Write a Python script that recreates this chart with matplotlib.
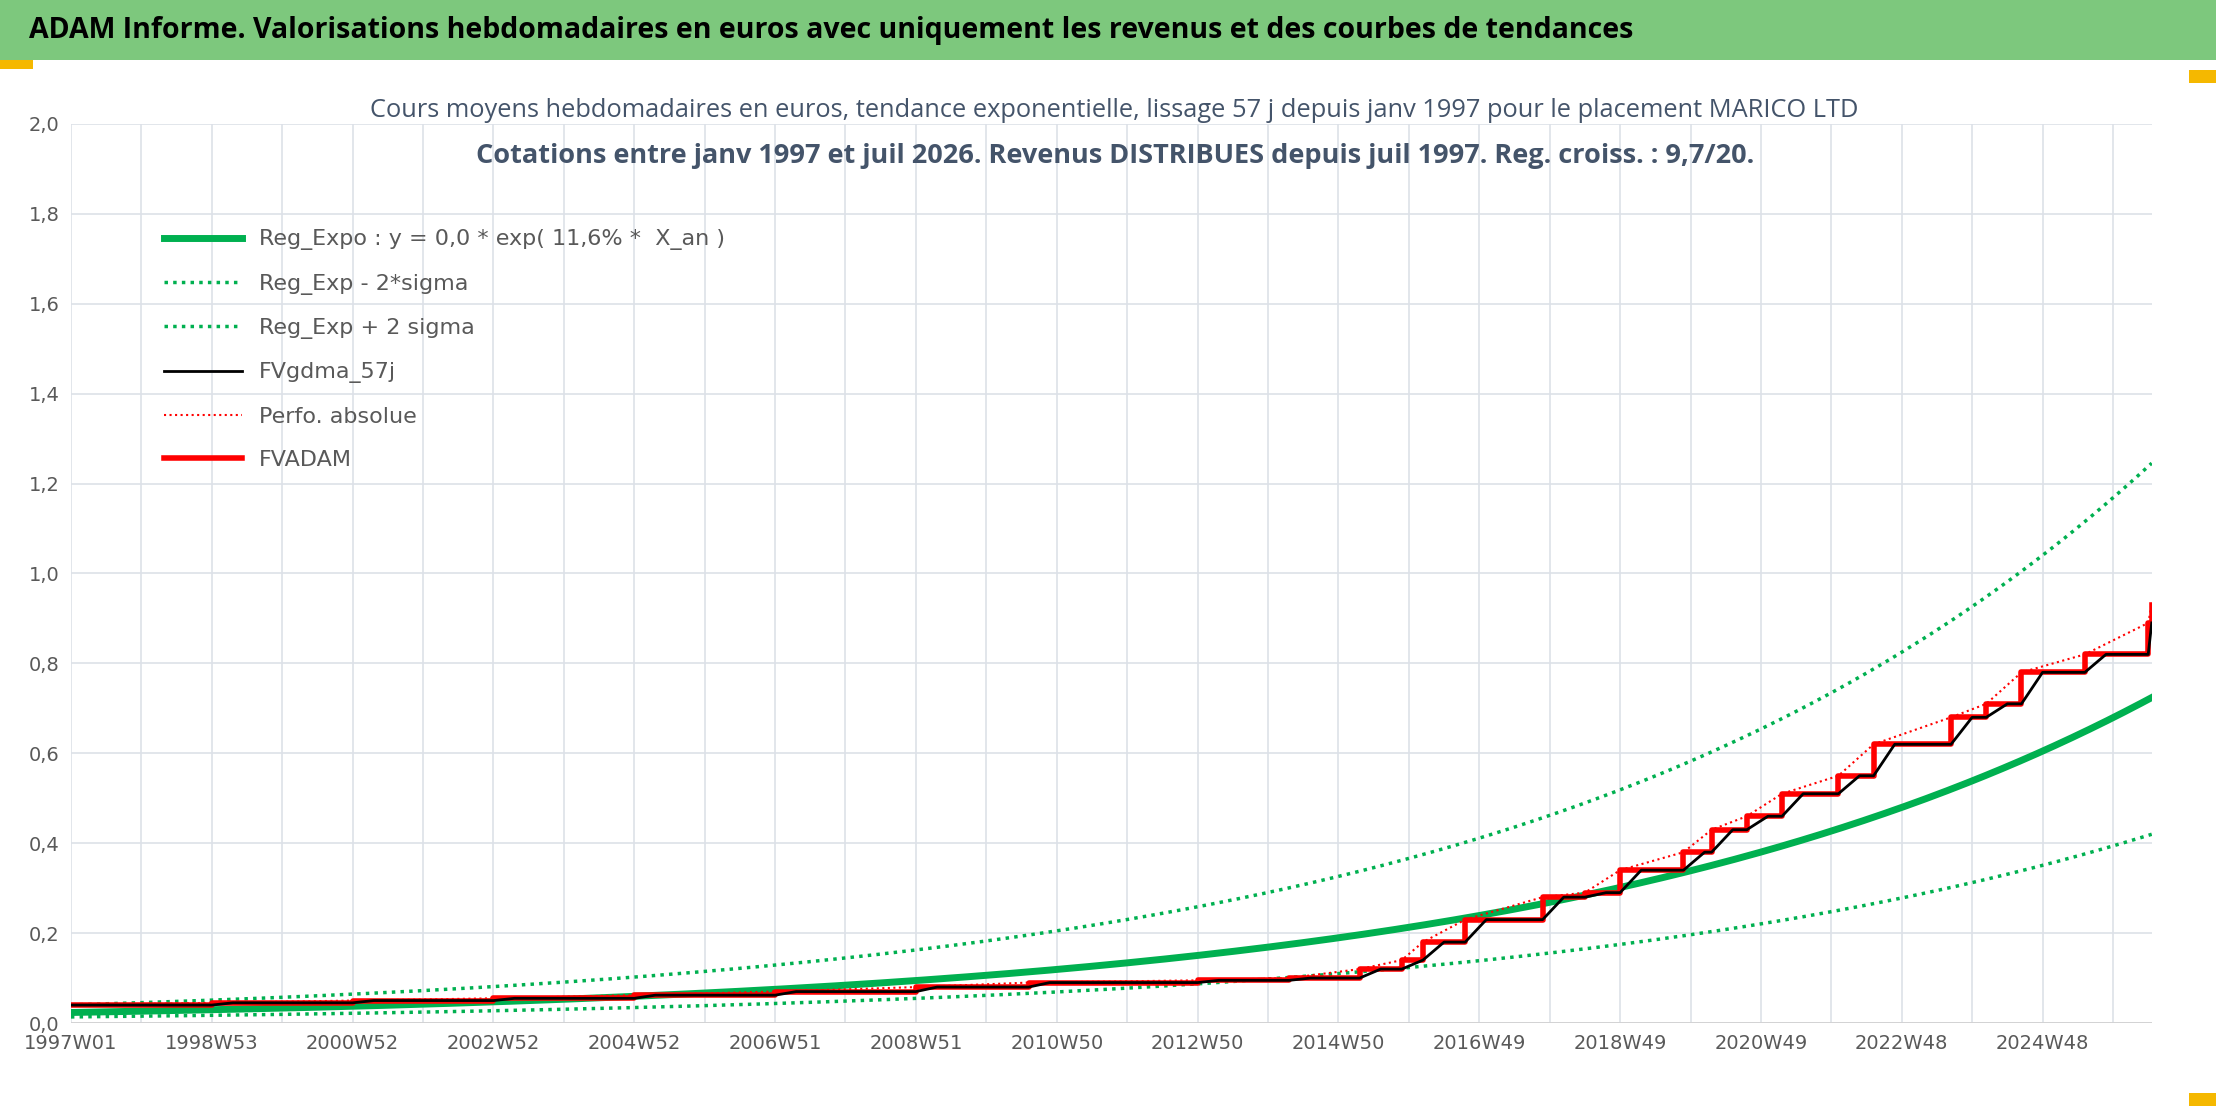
import numpy as np
import matplotlib.pyplot as plt
from matplotlib.patches import Rectangle

# ------------------------------------------------------------
# data (x in years since 1997W01)
# ------------------------------------------------------------
tick_labels = ['1997W01', '1998W53', '2000W52', '2002W52', '2004W52', '2006W51',
               '2008W51', '2010W50', '2012W50', '2014W50', '2016W49', '2018W49',
               '2020W49', '2022W48', '2024W48']
x_end = 29.55

# regression parameters (trend curve and +-2 sigma band factors)
reg_a = 0.0235
reg_rate = 0.116
band_up = 1.72
band_lo = 0.58

# FVADAM steps: start year of step, value
step_t = [0.0, 2.0, 4.0, 6.0, 8.0, 10.0, 12.0, 13.6, 16.0, 17.3, 18.3, 18.9,
          19.2, 19.8, 20.9, 21.5, 22.0, 22.9, 23.3, 23.8, 24.3, 25.1, 25.6,
          26.7, 27.2, 27.7, 28.6, 29.5]
step_v = [0.040, 0.045, 0.050, 0.055, 0.062, 0.070, 0.080, 0.090, 0.095, 0.10,
          0.12, 0.14, 0.18, 0.23, 0.28, 0.29, 0.34, 0.38, 0.43, 0.46, 0.51,
          0.55, 0.62, 0.68, 0.71, 0.78, 0.82, 0.89]
last_v = 0.93
smooth_lag = 0.3   # 57 j smoothing spreads each jump over ~0.3 year

# ------------------------------------------------------------
W, H = 2216, 1106
fig = plt.figure(figsize=(W/100, H/100), dpi=100)
fig.patch.set_facecolor('white')

# green title bar
fig.patches.append(Rectangle((0, 0.946), 1, 0.054, transform=fig.transFigure,
                             facecolor='#7DC87D', edgecolor='none'))
fig.patches.append(Rectangle((0, 0.938), 0.015, 0.008, transform=fig.transFigure,
                             facecolor='#F5B800', edgecolor='none'))
fig.patches.append(Rectangle((0.988, 0.925), 0.012, 0.012, transform=fig.transFigure,
                             facecolor='#F5B800', edgecolor='none'))
fig.patches.append(Rectangle((0.988, 0.0), 0.012, 0.012, transform=fig.transFigure,
                             facecolor='#F5B800', edgecolor='none'))
fig.text(0.013, 0.972, 'ADAM Informe. Valorisations hebdomadaires en euros avec uniquement les revenus et des courbes de tendances',
         fontsize=20.5, fontweight='bold', va='center', ha='left', family='Open Sans')

fig.text(0.503, 0.900, 'Cours moyens hebdomadaires en euros, tendance exponentielle, lissage 57 j depuis janv 1997 pour le placement MARICO LTD',
         fontsize=18.3, color='#44546A', ha='center', va='center', family='Open Sans')
fig.text(0.503, 0.859, 'Cotations entre janv 1997 et juil 2026. Revenus DISTRIBUES depuis juil 1997. Reg. croiss. : 9,7/20.',
         fontsize=19.5, color='#44546A', ha='center', va='center', family='Open Sans', fontweight='bold')

ax = fig.add_axes([0.032, 0.075, 0.939, 0.813])

t = np.linspace(0, x_end, 600)
trend = reg_a * np.exp(reg_rate * t)
ax.plot(t, trend, color='#00B050', lw=5, label='Reg_Expo : y = 0,0 * exp( 11,6% *  X_an )', zorder=3)
ax.plot(t, trend * band_lo, color='#00B050', lw=2.5, ls=(0, (1, 1.5)), label='Reg_Exp - 2*sigma', zorder=3)
ax.plot(t, trend * band_up, color='#00B050', lw=2.5, ls=(0, (1, 1.5)), label='Reg_Exp + 2 sigma', zorder=3)

st = np.array(step_t + [x_end])
sv = np.array(step_v + [last_v])

# smoothed curve: each jump ramps over smooth_lag
bx, by = [st[0]], [sv[0]]
for i in range(1, len(step_t)):
    bx += [st[i], min(st[i] + smooth_lag, x_end)]
    by += [sv[i - 1], sv[i]]
bx.append(x_end)
by.append(sv[len(step_t) - 1])

ax.plot(bx, by, color='black', lw=2, label='FVgdma_57j', zorder=5)
ax.plot(st, sv, color='#FF0000', lw=1.5, ls=':', label='Perfo. absolue', zorder=4)
ax.step(st, sv, where='post', color='#FF0000', lw=4, label='FVADAM', zorder=4)

ax.set_xlim(0, x_end)
ax.set_ylim(0, 2.0)
ax.set_yticks(np.arange(0, 2.01, 0.2))
ax.set_yticklabels([f'{v:.1f}'.replace('.', ',') for v in np.arange(0, 2.01, 0.2)])
ax.set_xticks(np.arange(len(tick_labels)) * 2)
ax.set_xticklabels(tick_labels)
ax.set_xticks(np.arange(0, x_end, 1), minor=True)
ax.grid(True, which='both', color='#DDE1E8', lw=1.2)
ax.set_axisbelow(True)
ax.tick_params(which='both', length=0, labelsize=14, colors='#595959', pad=8)
for s in ax.spines.values():
    s.set_visible(False)
ax.axhline(0, color='#D0D0D0', lw=1.2)

leg = ax.legend(loc='upper left', bbox_to_anchor=(0.035, 0.905), frameon=False,
                fontsize=16, handlelength=3.5, labelspacing=1.05, labelcolor='#595959')

fig.savefig('out.png', dpi=100)
